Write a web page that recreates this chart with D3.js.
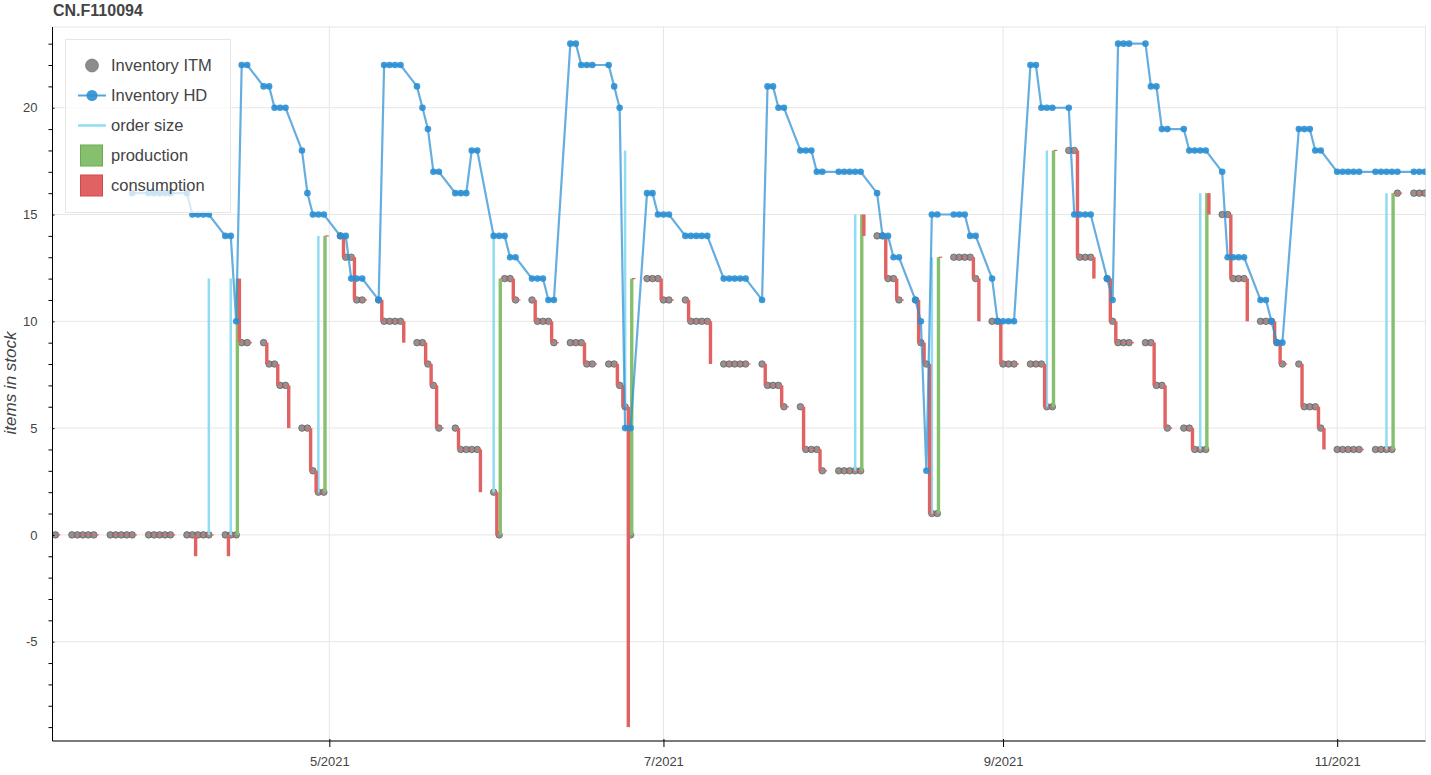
<!DOCTYPE html>
<html>
<head>
<meta charset="utf-8">
<script src="https://cdn.jsdelivr.net/npm/d3@7"></script>
<style>
  body { margin: 0; background: #fff; font-family: "Liberation Sans", Arial, sans-serif; }
  text { fill: #444; }
</style>
</head>
<body>
<svg id="chart" width="1431" height="775"></svg>
<script>
const _ = null;

// one row per week, Mon..Sun, first row starts Monday 2021-03-08
const weekStart = "2021-03-08";

const itmStock = [
  [_, _, _, _, 0, _, _],
  [0, 0, 0, 0, 0, _, _],
  [0, 0, 0, 0, 0, _, _],
  [0, 0, 0, 0, 0, _, _],
  [0, 0, 0, 0, 0, _, _],
  [0, 0, 0, 9, 9, _, _],
  [9, 8, 8, 7, 7, _, _],
  [5, 5, 3, 2, 2, _, _],
  [14, 13, 13, 11, 11, _, _],
  [11, 10, 10, 10, 10, _, _],
  [9, 9, 8, 7, 5, _, _],
  [5, 4, 4, 4, 4, _, _],
  [2, 0, 12, 12, 11, _, _],
  [11, 10, 10, 10, 9, _, _],
  [9, 9, 9, 8, 8, _, _],
  [8, 8, 7, 6, 0, _, _],
  [12, 12, 12, 11, 11, _, _],
  [11, 10, 10, 10, 10, _, _],
  [8, 8, 8, 8, 8, _, _],
  [8, 7, 7, 7, 6, _, _],
  [6, 4, 4, 4, 3, _, _],
  [3, 3, 3, 3, 3, _, _],
  [14, 14, 12, 12, 11, _, _],
  [11, 9, 8, 1, 1, _, _],
  [13, 13, 13, 13, 12, _, _],
  [10, 10, 8, 8, 8, _, _],
  [8, 8, 8, 6, 6, _, _],
  [18, 18, 13, 13, 13, _, _],
  [12, 10, 9, 9, 9, _, _],
  [9, 9, 7, 7, 5, _, _],
  [5, 5, 4, 4, 4, _, _],
  [15, 15, 12, 12, 12, _, _],
  [10, 10, 10, 9, 8, _, _],
  [8, 6, 6, 6, 5, _, _],
  [4, 4, 4, 4, 4, _, _],
  [4, 4, 4, 4, 16, _, _],
  [16, 16, 16]
];

const hdStock = [
  [_, _, _, _, _, _, _],
  [_, _, _, _, _, _, _],
  [_, _, _, _, 16, _, _],
  [16, 16, 16, 16, 16, _, _],
  [16, 15, 15, 15, 15, _, _],
  [14, 14, 10, 22, 22, _, _],
  [21, 21, 20, 20, 20, _, _],
  [18, 16, 15, 15, 15, _, _],
  [14, 14, 12, 12, 12, _, _],
  [11, 22, 22, 22, 22, _, _],
  [21, 20, 19, 17, 17, _, _],
  [16, 16, 16, 18, 18, _, _],
  [14, 14, 14, 13, 13, _, _],
  [12, 12, 12, 11, 11, _, _],
  [23, 23, 22, 22, 22, _, _],
  [22, 21, 20, 5, 5, _, _],
  [16, 16, 15, 15, 15, _, _],
  [14, 14, 14, 14, 14, _, _],
  [12, 12, 12, 12, 12, _, _],
  [11, 21, 21, 20, 20, _, _],
  [18, 18, 18, 17, 17, _, _],
  [17, 17, 17, 17, 17, _, _],
  [16, 14, 14, 13, 13, _, _],
  [11, 10, 3, 15, 15, _, _],
  [15, 15, 15, 14, 14, _, _],
  [12, 10, 10, 10, 10, _, _],
  [22, 22, 20, 20, 20, _, _],
  [20, 15, 15, 15, 15, _, _],
  [12, 11, 23, 23, 23, _, _],
  [23, 21, 21, 19, 19, _, _],
  [19, 18, 18, 18, 18, _, _],
  [17, 13, 13, 13, 13, _, _],
  [11, 11, 10, 9, 9, _, _],
  [19, 19, 19, 18, 18, _, _],
  [17, 17, 17, 17, 17, _, _],
  [17, 17, 17, 17, 17, _, _],
  [17, 17, 17]
];

// [date, quantity]
const consumption = [
  ["2021-04-06", 1], ["2021-04-12", 1], ["2021-04-14", 3], ["2021-04-19", 1],
  ["2021-04-21", 1], ["2021-04-23", 2], ["2021-04-27", 2], ["2021-04-28", 1],
  ["2021-05-03", 1], ["2021-05-05", 2], ["2021-05-10", 1], ["2021-05-14", 1],
  ["2021-05-18", 1], ["2021-05-19", 1], ["2021-05-20", 2], ["2021-05-24", 1],
  ["2021-05-28", 2], ["2021-05-31", 2], ["2021-06-03", 1], ["2021-06-07", 1],
  ["2021-06-10", 1], ["2021-06-16", 1], ["2021-06-22", 1], ["2021-06-23", 1],
  ["2021-06-24", 15], ["2021-06-30", 1], ["2021-07-05", 1], ["2021-07-09", 2],
  ["2021-07-19", 1], ["2021-07-22", 1], ["2021-07-26", 2], ["2021-07-29", 1],
  ["2021-08-06", 1], ["2021-08-10", 2], ["2021-08-12", 1], ["2021-08-16", 2],
  ["2021-08-17", 1], ["2021-08-18", 7], ["2021-08-26", 1], ["2021-08-27", 2],
  ["2021-08-31", 2], ["2021-09-08", 2], ["2021-09-14", 5], ["2021-09-17", 1],
  ["2021-09-20", 2], ["2021-09-21", 1], ["2021-09-28", 2], ["2021-09-30", 2],
  ["2021-10-05", 1], ["2021-10-08", 1], ["2021-10-12", 3], ["2021-10-15", 2],
  ["2021-10-20", 1], ["2021-10-21", 1], ["2021-10-25", 2], ["2021-10-28", 1],
  ["2021-10-29", 1]
];

const production = [
  ["2021-04-14", 12], ["2021-04-30", 12], ["2021-06-01", 12], ["2021-06-25", 12],
  ["2021-08-06", 12], ["2021-08-20", 12], ["2021-09-10", 12], ["2021-10-08", 12],
  ["2021-11-11", 12]
];

const orders = [
  ["2021-04-09", 12], ["2021-04-13", 12], ["2021-04-29", 12], ["2021-05-31", 12],
  ["2021-06-24", 12], ["2021-08-05", 12], ["2021-08-19", 12], ["2021-09-09", 12],
  ["2021-10-07", 12], ["2021-11-10", 12]
];

const title = "CN.F110094";

// ---------------------------------------------------------------
const parse = d3.utcParse("%Y-%m-%d");
const start = parse(weekStart);
const HOUR = 3600 * 1000;

function toSeries(weeks) {
  return weeks.flat()
    .map((v, i) => ({ date: d3.utcDay.offset(start, i), value: v }))
    .filter(d => d.value !== null);
}

const itm = toSeries(itmStock);
const hd = toSeries(hdStock);
const levelOf = new Map(itm.map(d => [+d.date, d.value]));
const consOf = new Map(consumption.map(d => [+parse(d[0]), d[1]]));
const prodOf = new Map(production.map(d => [+parse(d[0]), d[1]]));

const consBars = itm.map(d => {
  const top = d.value + (prodOf.get(+d.date) || 0);
  return { date: d.date, top: top, bottom: top - (consOf.get(+d.date) || 0) };
});
const prodBars = production.map(d => {
  const date = parse(d[0]);
  const lvl = levelOf.get(+date);
  return { date, bottom: lvl, top: lvl + d[1] };
});
const orderLines = orders.map(d => {
  const date = parse(d[0]);
  const lvl = levelOf.get(+date);
  return { date, bottom: lvl, top: lvl + d[1] };
});

const plot = { left: 52.5, right: 1425.5, top: 27, bottom: 741 };

const x = d3.scaleUtc()
  .domain([new Date(Date.UTC(2021, 2, 11, 11, 0)), new Date(Date.UTC(2021, 10, 17, 3, 0))])
  .range([plot.left, plot.right]);
const y = d3.scaleLinear()
  .domain([-9.65, 23.78])
  .range([plot.bottom, plot.top]);

const colors = {
  itm: "#6f6f6f",
  hd: "#2a8fd3",
  order: "#8fdcf3",
  prod: "#86c06e",
  cons: "#e06262"
};

const svg = d3.select("#chart");

svg.append("defs").append("clipPath").attr("id", "clip")
  .append("rect")
  .attr("x", plot.left).attr("y", plot.top)
  .attr("width", plot.right - plot.left).attr("height", plot.bottom - plot.top);

// grid
const monthTicks = x.ticks(d3.utcMonth.every(2));
const yMajor = y.ticks(5);

svg.append("g").selectAll("line").data(yMajor).join("line")
  .attr("x1", plot.left).attr("x2", plot.right)
  .attr("y1", d => y(d)).attr("y2", d => y(d))
  .attr("stroke", "#e6e6e6");
svg.append("g").selectAll("line").data(monthTicks).join("line")
  .attr("x1", d => x(d)).attr("x2", d => x(d))
  .attr("y1", plot.top).attr("y2", plot.bottom)
  .attr("stroke", "#e6e6e6");

svg.append("rect")
  .attr("x", plot.left).attr("y", plot.top)
  .attr("width", plot.right - plot.left).attr("height", plot.bottom - plot.top)
  .attr("fill", "none").attr("stroke", "#e6e6e6");

const chart = svg.append("g").attr("clip-path", "url(#clip)");

// Inventory ITM dots
chart.append("g").selectAll("circle").data(itm).join("circle")
  .attr("cx", d => x(d.date))
  .attr("cy", d => y(d.value))
  .attr("r", 3.3)
  .attr("fill", colors.itm).attr("fill-opacity", 0.75)
  .attr("stroke", "#555").attr("stroke-opacity", 0.7).attr("stroke-width", 0.9);

// order size
chart.append("g").selectAll("line").data(orderLines).join("line")
  .attr("x1", d => x(d.date)).attr("x2", d => x(d.date))
  .attr("y1", d => y(d.bottom)).attr("y2", d => y(d.top))
  .attr("stroke", colors.order).attr("stroke-width", 2.5);

// production
const barW = 3.4;
chart.append("g").selectAll("rect").data(prodBars).join("rect")
  .attr("x", d => x(+d.date + 5 * HOUR) - barW / 2)
  .attr("y", d => y(d.top))
  .attr("width", barW)
  .attr("height", d => y(d.bottom) - y(d.top))
  .attr("fill", colors.prod);

// consumption (zero days leave a thin tick)
chart.append("g").selectAll("rect").data(consBars).join("rect")
  .attr("x", d => x(+d.date + 14 * HOUR) - barW / 2)
  .attr("y", d => d.top === d.bottom ? y(d.top) - 0.6 : y(d.top))
  .attr("width", barW)
  .attr("height", d => Math.max(1.2, y(d.bottom) - y(d.top)))
  .attr("fill", colors.cons);

// Inventory HD
chart.append("path").datum(hd)
  .attr("fill", "none")
  .attr("stroke", colors.hd).attr("stroke-opacity", 0.72).attr("stroke-width", 2.2)
  .attr("d", d3.line().x(d => x(d.date)).y(d => y(d.value)));
chart.append("g").selectAll("circle").data(hd).join("circle")
  .attr("cx", d => x(d.date))
  .attr("cy", d => y(d.value))
  .attr("r", 3.3)
  .attr("fill", colors.hd).attr("fill-opacity", 0.9);

// axes
const yAxis = svg.append("g")
  .attr("transform", `translate(${plot.left},0)`)
  .call(d3.axisLeft(y).tickValues(yMajor).tickSizeInner(6).tickSizeOuter(0)
    .tickPadding(9).tickFormat(d => String(d)));
yAxis.selectAll(".tick line").attr("x2", 2);
yAxis.select(".domain").attr("d", `M0,${plot.top}V${plot.bottom}`);

svg.append("g")
  .attr("transform", `translate(${plot.left},0)`)
  .call(d3.axisLeft(y).tickValues(d3.range(-9, 24).filter(v => v % 5 !== 0))
    .tickSize(4).tickFormat(""))
  .call(g => g.select(".domain").remove());

const xAxis = svg.append("g")
  .attr("transform", `translate(0,${plot.bottom})`)
  .call(d3.axisBottom(x).tickValues(monthTicks).tickSizeInner(6).tickSizeOuter(0)
    .tickPadding(10).tickFormat(d3.utcFormat("%-m/%Y")));
xAxis.selectAll(".tick line").attr("y2", 6).attr("y1", -2);
xAxis.select(".domain").attr("d", `M${plot.left},0H${plot.right}`);

svg.selectAll(".tick text").attr("font-size", 13).attr("fill", "#444")
  .attr("font-family", "'Liberation Sans', Arial, sans-serif");

// axis label and title
svg.append("text")
  .attr("transform", `translate(16,383) rotate(-90)`)
  .attr("text-anchor", "middle")
  .attr("font-size", 17).attr("font-style", "italic")
  .text("items in stock");

svg.append("text")
  .attr("x", 53).attr("y", 16)
  .attr("font-size", 16).attr("font-weight", "bold")
  .text(title);

// legend
const legend = svg.append("g");
legend.append("rect")
  .attr("x", 65.5).attr("y", 39.5).attr("width", 165).attr("height", 173)
  .attr("fill", "#fff").attr("fill-opacity", 0.75).attr("stroke", "#e6e6e6");

const items = [
  { label: "Inventory ITM", kind: "dot" },
  { label: "Inventory HD", kind: "linedot" },
  { label: "order size", kind: "line" },
  { label: "production", kind: "box", color: colors.prod, edge: "#6aab52" },
  { label: "consumption", kind: "box", color: colors.cons, edge: "#cf4a4a" }
];
items.forEach((it, i) => {
  const cy = 65.5 + i * 30;
  const g = legend.append("g");
  if (it.kind === "dot") {
    g.append("circle").attr("cx", 92).attr("cy", cy).attr("r", 6.5)
      .attr("fill", colors.itm).attr("fill-opacity", 0.8)
      .attr("stroke", "#555").attr("stroke-opacity", 0.5);
  } else if (it.kind === "linedot") {
    g.append("line").attr("x1", 78).attr("x2", 106).attr("y1", cy).attr("y2", cy)
      .attr("stroke", colors.hd).attr("stroke-opacity", 0.8).attr("stroke-width", 2);
    g.append("circle").attr("cx", 92).attr("cy", cy).attr("r", 5.5)
      .attr("fill", colors.hd).attr("fill-opacity", 0.9);
  } else if (it.kind === "line") {
    g.append("line").attr("x1", 78).attr("x2", 106).attr("y1", cy).attr("y2", cy)
      .attr("stroke", colors.order).attr("stroke-width", 2.5);
  } else {
    g.append("rect").attr("x", 80.5).attr("y", cy - 10.5).attr("width", 22).attr("height", 21)
      .attr("fill", it.color).attr("stroke", it.edge);
  }
  g.append("text").attr("x", 111).attr("y", cy).attr("dy", "0.35em")
    .attr("font-size", 16.5).text(it.label);
});
</script>
</body>
</html>
